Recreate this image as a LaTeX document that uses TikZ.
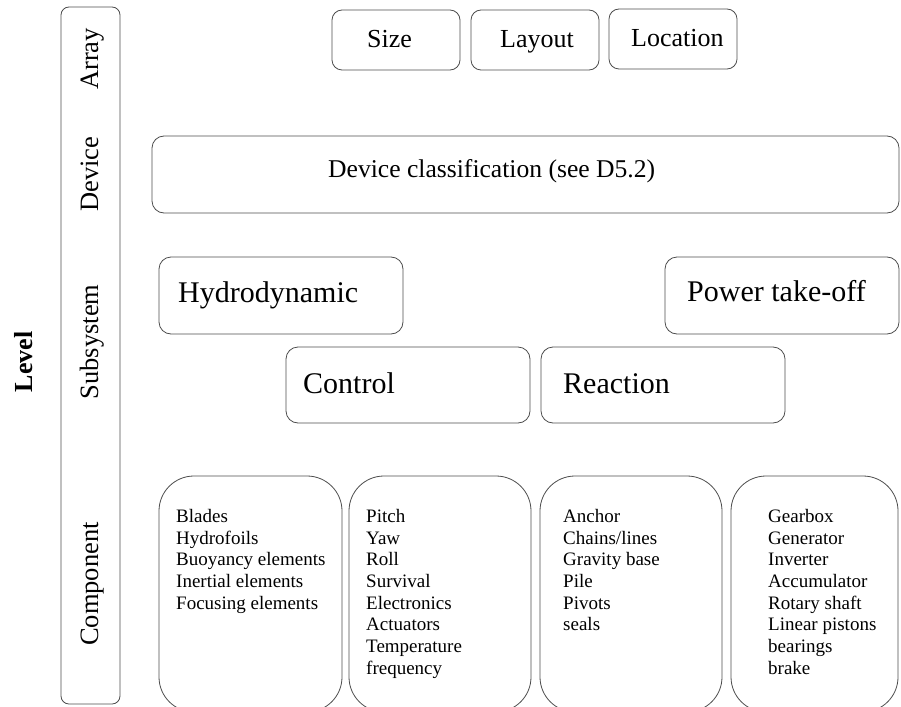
\documentclass[tikz,border=0pt]{standalone}
\usepackage{fontspec}
\setmainfont{Liberation Serif}
\begin{document}
\begin{tikzpicture}[x=1pt,y=-1pt,
  bx/.style={draw=black!70, line width=0.8pt, rounded corners=#1, inner sep=0pt, outer sep=0pt, anchor=north west},
  bx/.default=11pt,
  lbl/.style={inner sep=0pt, anchor=base west, font=\fontsize{26}{30}\selectfont},
  big/.style={inner sep=0pt, anchor=base west, font=\fontsize{30}{34}\selectfont},
  side/.style={inner sep=0pt, anchor=base, rotate=90, font=\fontsize{26.5}{30}\selectfont},
  list/.style={inner sep=0pt, anchor=north west, align=left, font=\fontsize{19}{21.7}\selectfont}]
\useasboundingbox (0,0) rectangle (901,706);
\clip (0,0) rectangle (901,706);
% level bar
\node[bx=8pt, minimum width=59pt, minimum height=697pt] (lvl) at (61,7) {};
\node[inner sep=0pt, anchor=base, rotate=90, font=\bfseries\fontsize{26}{30}\selectfont] (level) at (32,362) {Level};
\node[side] (sarr) at (98,59) {Array};
\node[side] (sdev) at (98,174) {Device};
\node[side] (ssub) at (98,342) {Subsystem};
\node[side] (scom) at (98,584) {Component};
% array level
\node[bx=10pt, minimum width=128pt, minimum height=60pt] (size) at (332,10) {};
\node[bx=10pt, minimum width=128pt, minimum height=60pt] (layout) at (471,10) {};
\node[bx=10pt, minimum width=128pt, minimum height=60pt] (loc) at (609,9) {};
\node[lbl] (tsize) at (367,48) {Size};
\node[lbl] (tlayout) at (500,48) {Layout};
\node[lbl] (tloc) at (631,47) {Location};
% device level
\node[bx=12pt, minimum width=747pt, minimum height=77pt] (dev) at (152,136) {};
\node[inner sep=0pt, anchor=base west, font=\fontsize{25.6}{30}\selectfont] (tdev) at (328,177) {Device classification (see D5.2)};
% subsystem level
\node[bx=12pt, minimum width=244pt, minimum height=77pt] (hyd) at (159,257) {};
\node[bx=12pt, minimum width=234pt, minimum height=77pt] (pto) at (665,257) {};
\node[bx=12pt, minimum width=244pt, minimum height=76pt] (ctl) at (286,347) {};
\node[bx=12pt, minimum width=244pt, minimum height=76pt] (rea) at (541,347) {};
\node[big] (thyd) at (178,302) {Hydrodynamic};
\node[big] (tpto) at (687,301) {Power take-off};
\node[big] (tctl) at (303,393) {Control};
\node[big] (trea) at (563,393) {Reaction};
% component level
\node[bx=35pt, minimum width=183pt, minimum height=236pt] (c1) at (159,476) {};
\node[bx=35pt, minimum width=182pt, minimum height=236pt] (c2) at (349,476) {};
\node[bx=35pt, minimum width=182pt, minimum height=236pt] (c3) at (540,476) {};
\node[bx=35pt, minimum width=167pt, minimum height=236pt] (c4) at (731,476) {};
\node[list] (l1) at (176,509) {Blades\\Hydrofoils\\Buoyancy elements\\Inertial elements\\Focusing elements};
\node[list] (l2) at (366,509) {Pitch\\Yaw\\Roll\\Survival\\Electronics\\Actuators\\Temperature\\frequency};
\node[list] (l3) at (563,509) {Anchor\\Chains/lines\\Gravity base\\Pile\\Pivots\\seals};
\node[list] (l4) at (768,509) {Gearbox\\Generator\\Inverter\\Accumulator\\Rotary shaft\\Linear pistons\\bearings\\brake};
\end{tikzpicture}
\end{document}
